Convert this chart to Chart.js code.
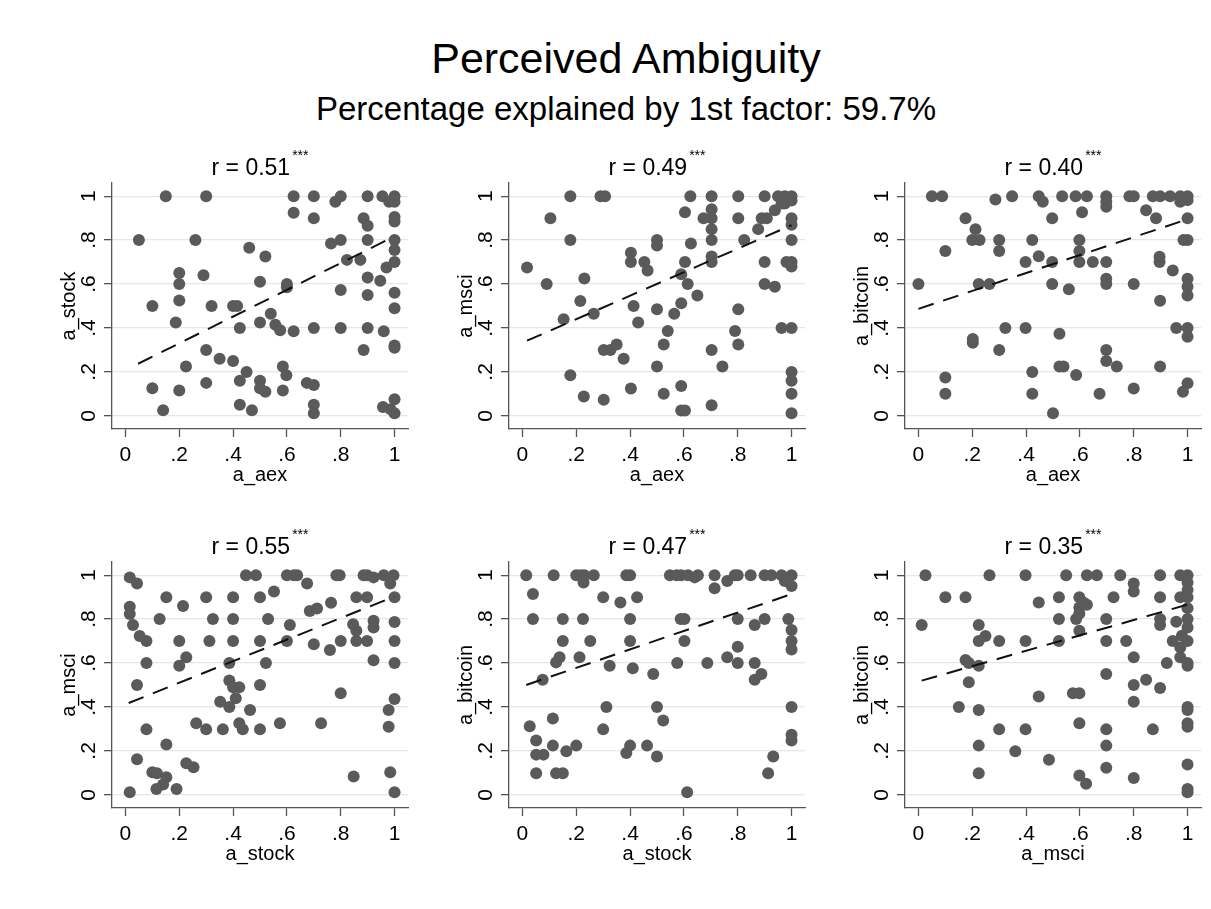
<!DOCTYPE html>
<html>
<head>
<meta charset="utf-8">
<title>Perceived Ambiguity</title>
<script src="https://cdn.jsdelivr.net/npm/chart.js@4.4.0/dist/chart.umd.min.js"></script>
<style>
    body {
        margin: 0;
        width: 1211px;
        height: 909px;
        background: #fff;
        overflow: hidden;
        position: relative;
        font-family: "Liberation Sans", Arial, sans-serif;
    }
    .title {
        position: absolute;
        left: 41px;
        width: 1170px;
        text-align: center;
        color: #000;
        white-space: nowrap;
    }
    canvas {
        position: absolute;
    }
</style>
</head>
<body>
<div class="title" style="top:37px;font-size:43px;line-height:43px">Perceived Ambiguity</div>
<div class="title" style="top:92px;font-size:33px;line-height:33px">Percentage explained by 1st factor: 59.7%</div>

<canvas id="c0" width="368" height="353" style="left:50px;top:138px"></canvas>
<canvas id="c1" width="368" height="353" style="left:447px;top:138px"></canvas>
<canvas id="c2" width="368" height="353" style="left:843px;top:138px"></canvas>
<canvas id="c3" width="368" height="353" style="left:50px;top:517px"></canvas>
<canvas id="c4" width="368" height="353" style="left:447px;top:517px"></canvas>
<canvas id="c5" width="368" height="353" style="left:843px;top:517px"></canvas>

<script>
const FONT = '"Liberation Sans", Arial, sans-serif';

const tickValues = [0, 0.2, 0.4, 0.6, 0.8, 1];
const tickLabels = ['0', '.2', '.4', '.6', '.8', '1'];

const rValues = ['0.51', '0.49', '0.40', '0.55', '0.47', '0.35'];
const xTitles = ['a_aex', 'a_aex', 'a_aex', 'a_stock', 'a_stock', 'a_msci'];
const yTitles = ['a_stock', 'a_msci', 'a_bitcoin', 'a_msci', 'a_bitcoin', 'a_bitcoin'];

// a_aex vs a_stock
const aexStockX = [0.05,0.15,0.30,0.10,0.10,0.14,0.20,0.20,0.20,0.187, 0.225,0.20,0.26,0.29,0.32,0.30,0.35,0.30,0.40,0.415,
    0.425,0.40,0.45,0.425,0.425,0.47,0.46,0.52,0.50,0.54, 0.50,0.557,0.575,0.50,0.50,0.52,0.585,0.585,0.598,0.60,
    0.60,0.625,0.625,0.625,0.70,0.70,0.70,0.674,0.70,0.70, 0.70,0.764,0.80,0.78,0.80,0.80,0.80,0.823,0.873,0.90,
    0.885,0.90,0.90,0.90,0.90,0.90,0.885,0.955,0.98,1, 1,1,1,1,1,1,0.97,0.947,1,1, 0.96,1,1,0.957,1,1,0.985];
const aexStockY = [0.80,1,1,0.50,0.125,0.025,0.65,0.60,0.525,0.425, 0.225,0.115,0.80,0.64,0.50,0.30,0.26,0.15,0.50,0.50,
    0.40,0.25,0.20,0.16,0.05,0.025,0.765,0.725,0.61,0.465, 0.425,0.415,0.39,0.16,0.125,0.11,0.115,0.225,0.185,0.60,
    0.585,0.385,1,0.925,1,0.90,0.40,0.15,0.14,0.05, 0.012,0.785,0.80,0.975,1,0.573,0.40,0.71,0.71,1,
    0.90,0.865,0.80,0.63,0.55,0.40,0.30,1,0.975,1, 0.975,0.905,0.885,0.80,0.755,0.70,0.675,0.615,0.56,0.49, 0.385,0.32,0.31,0.04,0.075,0.012,0.03];

// a_aex vs a_msci
const aexMsciX = [0.017,0.104,0.09,0.178,0.178,0.178,0.153,0.215,0.23,0.228, 0.265,0.29,0.307,0.302,0.327,0.35,0.376,0.302,0.403,0.403,
    0.453,0.465,0.413,0.43,0.403,0.5,0.5,0.5,0.5,0.525, 0.54,0.525,0.564,0.59,0.59,0.604,0.604,0.614,0.65,0.624,
    0.626,0.59,0.59,0.604,0.673,0.703,0.703,0.703,0.703,0.703, 0.703,0.703,0.703,0.703,0.743,0.802,0.802,0.824,0.876,0.802,
    0.79,0.802,0.9,0.889,0.908,0.938,0.9,0.9,0.938,0.95, 0.975,1,0.975,1,1,1,1,0.981,1,1, 0.963,1,1,1,1,1,0.963];
const aexMsciY = [0.675,0.9,0.6,1,0.8,0.185,0.44,0.523,0.625,0.088, 0.465,1,1,0.3,0.3,0.325,0.26,0.073,0.742,0.7,
    0.7,0.662,0.5,0.425,0.124,0.8,0.775,0.485,0.225,0.325, 0.386,0.1,0.465,0.512,0.645,0.7,0.927,0.6,0.548,1,
    0.785,0.136,0.024,0.024,0.9,1,0.94,0.9,0.85,0.8, 0.725,0.7,0.3,0.048,0.225,1,0.9,0.8,0.85,0.485,
    0.386,0.325,1,0.9,0.9,0.936,0.7,0.6,0.588,1, 1,1,0.967,0.98,0.9,0.87,0.8,0.7,0.7,0.68, 0.4,0.4,0.2,0.16,0.1,0.012,0.967];

// a_aex vs a_bitcoin
const aexBitcoinX = [0,0.05,0.088,0.1,0.1,0.1,0.175,0.212,0.2,0.227, 0.224,0.264,0.202,0.202,0.286,0.3,0.3,0.3,0.323,0.348,
    0.398,0.398,0.423,0.423,0.423,0.447,0.447,0.462,0.497,0.497, 0.497,0.5,0.534,0.524,0.524,0.539,0.559,0.584,0.626,0.608,
    0.598,0.598,0.598,0.648,0.586,0.673,0.698,0.698,0.698,0.698, 0.698,0.698,0.698,0.698,0.737,0.784,0.8,0.8,0.8,0.846,
    0.871,0.898,0.883,0.896,0.896,0.898,0.898,0.945,0.935,0.973, 1,0.973,1,1,0.985,1,1,1,1,0.958, 1,1,1,0.983];
const aexBitcoinY = [0.6,1,1,0.75,0.175,0.1,0.9,0.85,0.8,0.8, 0.6,0.6,0.35,0.333,0.985,0.8,0.75,0.3,0.4,1,
    0.7,0.4,0.8,0.2,0.1,0.727,1,0.975,0.9,0.7, 0.6,0.012,1,0.374,0.225,0.225,0.576,1,1,0.927,
    0.8,0.75,0.7,0.7,0.186,0.1,1,0.975,0.952,0.7, 0.624,0.6,0.3,0.25,0.225,1,1,0.6,0.124,0.936,
    1,1,0.9,0.724,0.7,0.524,0.225,0.662,1,1, 1,0.975,0.982,0.9,0.8,0.8,0.624,0.588,0.548,0.4, 0.4,0.36,0.148,0.11];

// a_stock vs a_msci
const stockMsciX = [0.016,0.016,0.016,0.043,0.028,0.053,0.078,0.078,0.043,0.078, 0.043,0.016,0.1,0.117,0.127,0.152,0.152,0.152,0.14,0.115,
    0.19,0.214,0.2,0.2,0.226,0.226,0.253,0.263,0.3,0.325, 0.312,0.3,0.362,0.352,0.4,0.4,0.4,0.386,0.386,0.4,
    0.386,0.41,0.423,0.423,0.436,0.463,0.448,0.485,0.5,0.5, 0.5,0.5,0.522,0.53,0.552,0.574,0.6,0.626,0.638,0.611,
    0.6,0.675,0.685,0.712,0.7,0.76,0.764,0.727,0.784,0.796, 0.8,0.8,0.846,0.858,0.858,0.858,0.848,0.885,0.898,0.922,
    0.898,0.898,0.922,0.922,0.922,0.96,0.996,0.984,1,1, 1,1,1,0.978,0.978,0.984,1];
const stockMsciY = [0.99,0.856,0.823,0.962,0.773,0.723,0.7,0.6,0.5,0.298, 0.162,0.012,0.103,0.098,0.8,0.9,0.229,0.08,0.047,0.027,
    0.027,0.86,0.7,0.588,0.626,0.144,0.126,0.326,0.9,0.8, 0.7,0.298,0.298,0.424,0.9,0.8,0.7,0.6,0.52,0.49,
    0.4,0.44,0.49,0.326,0.298,0.386,1,1,0.9,0.7, 0.5,0.298,0.6,0.8,0.926,0.326,1,1,1,0.773,
    0.7,0.962,0.837,0.848,0.686,0.659,0.875,0.326,1,1, 0.7,0.462,0.777,0.747,0.7,0.9,0.083,1,1,0.99,
    0.9,0.7,0.792,0.762,0.613,1,1,0.962,0.9,0.787, 0.7,0.6,0.436,0.386,0.31,0.103,0.012];

// a_stock vs a_bitcoin
const stockBitcoinX = [0.014,0.116,0.2,0.217,0.23,0.227,0.265,0.039,0.039,0.075, 0.027,0.051,0.051,0.078,0.051,0.113,0.113,0.125,0.15,0.163,
    0.2,0.125,0.138,0.15,0.15,0.225,0.212,0.252,0.3,0.324, 0.312,0.3,0.364,0.386,0.4,0.426,0.4,0.4,0.41,0.4,
    0.386,0.463,0.486,0.5,0.523,0.5,0.548,0.573,0.59,0.615, 0.64,0.652,0.588,0.602,0.602,0.575,0.612,0.687,0.714,0.714,
    0.761,0.789,0.8,0.848,0.761,0.8,0.8,0.8,0.863,0.863, 0.863,0.888,0.9,0.925,0.9,0.913,0.932,0.963,1,0.975,
    1,0.988,1,1,1,1,1,1];
const stockBitcoinY = [1,1,1,1,1,0.967,1,0.914,0.8,0.524, 0.312,0.247,0.183,0.183,0.098,0.348,0.224,0.098,0.098,0.198,
    0.224,0.603,0.626,0.7,0.8,0.8,0.626,0.7,0.9,0.588, 0.4,0.298,0.876,1,1,0.9,0.8,0.7,0.576,0.224,
    0.19,0.224,0.55,0.4,0.338,0.175,1,1,1,1, 0.99,1,0.8,0.8,0.7,0.6,0.012,0.6,1,0.94,
    0.974,1,1,1,0.626,0.8,0.674,0.6,0.773,0.6, 0.524,0.55,1,1,0.8,0.098,0.175,1,1,0.974,
    0.951,0.8,0.75,0.7,0.662,0.4,0.273,0.247];

// a_msci vs a_bitcoin
const msciBitcoinX = [0.026,0.012,0.1,0.175,0.175,0.187,0.187,0.15,0.224,0.224, 0.249,0.224,0.224,0.224,0.224,0.264,0.3,0.3,0.36,0.398,
    0.398,0.398,0.447,0.447,0.485,0.522,0.522,0.522,0.549,0.574, 0.598,0.598,0.598,0.586,0.598,0.613,0.626,0.598,0.598,0.598,
    0.623,0.626,0.663,0.698,0.698,0.698,0.698,0.698,0.698,0.725, 0.75,0.772,0.8,0.8,0.8,0.8,0.8,0.8,0.846,0.871,
    0.898,0.898,0.898,0.898,0.898,0.923,0.945,0.958,0.973,0.973, 0.973,0.973,1,1,1,1,1,1,1,1,
    1,1,1,1,1,1,1,1,1,0.979];
const msciBitcoinY = [1,0.773,0.9,0.9,0.614,0.6,0.512,0.4,0.773,0.7, 0.723,0.588,0.386,0.224,0.098,1,0.7,0.298,0.198,1,
    0.7,0.298,0.876,0.448,0.16,0.9,0.8,0.7,1,0.462, 0.462,0.9,0.853,0.8,0.826,0.876,0.865,0.747,0.326,0.088,
    0.05,1,1,0.8,0.7,0.55,0.298,0.224,0.123,0.9, 1,0.7,0.962,0.926,0.626,0.5,0.424,0.077,0.524,0.298,
    1,0.9,0.8,0.773,0.486,0.6,0.7,0.788,0.9,1, 0.671,0.626,1,0.967,0.932,0.9,0.85,0.8,0.762,0.7,
    0.588,0.6,0.4,0.386,0.326,0.31,0.138,0.027,0.012,0.724];

// fitted line end points per panel
const fitX = [[0.047, 1], [0.017, 1], [0, 1], [0.012, 1], [0.014, 1], [0.012, 1]];
const fitY = [[0.237, 0.817], [0.342, 0.868], [0.487, 0.895], [0.418, 0.903], [0.50, 0.914], [0.52, 0.866]];

const panelX = [aexStockX, aexMsciX, aexBitcoinX, stockMsciX, stockBitcoinX, msciBitcoinX];
const panelY = [aexStockY, aexMsciY, aexBitcoinY, stockMsciY, stockBitcoinY, msciBitcoinY];

// draws the rotated y tick labels and the "r = ..." title with stars
const panelDecor = {
    id: 'panelDecor',
    afterDraw(chart, args, opts) {
        const ctx = chart.ctx;
        const area = chart.chartArea;
        const ys = chart.scales.y;
        ctx.save();
        ctx.fillStyle = '#000';

        ctx.font = '21px ' + FONT;
        ctx.textAlign = 'center';
        ctx.textBaseline = 'middle';
        tickValues.forEach((v, k) => {
            ctx.save();
            ctx.translate(area.left - 22.5, ys.getPixelForValue(v));
            ctx.rotate(-Math.PI / 2);
            ctx.fillText(tickLabels[k], 0, 0);
            ctx.restore();
        });

        const main = 'r = ' + opts.r;
        ctx.font = '23px ' + FONT;
        const w1 = ctx.measureText(main).width;
        ctx.font = '14px ' + FONT;
        const w2 = ctx.measureText('***').width;
        const x0 = (area.left + area.right) / 2 - (w1 + w2 + 2) / 2;
        ctx.textAlign = 'left';
        ctx.textBaseline = 'alphabetic';
        ctx.font = '23px ' + FONT;
        ctx.fillText(main, x0, area.top - 8);
        ctx.font = '14px ' + FONT;
        ctx.fillText('***', x0 + w1 + 2, area.top - 23);
        ctx.restore();
    }
};

function makeChart(i) {
    const points = panelX[i].map((x, k) => ({ x: x, y: panelY[i][k] }));
    const fit = fitX[i].map((x, k) => ({ x: x, y: fitY[i][k] }));

    new Chart(document.getElementById('c' + i), {
        type: 'scatter',
        data: {
            datasets: [
                {
                    data: fit,
                    showLine: true,
                    borderColor: '#111',
                    borderWidth: 2,
                    borderDash: [16, 10],
                    pointRadius: 0
                },
                {
                    data: points,
                    pointRadius: 6,
                    backgroundColor: '#5a5a5a',
                    borderWidth: 0
                }
            ]
        },
        options: {
            responsive: false,
            animation: false,
            devicePixelRatio: 1,
            layout: { padding: { top: 45, right: 10, left: 0, bottom: 0 } },
            plugins: {
                legend: { display: false },
                tooltip: { enabled: false },
                panelDecor: { r: rValues[i] }
            },
            scales: {
                x: {
                    type: 'linear',
                    min: -0.05,
                    max: 1.05,
                    afterBuildTicks: s => { s.ticks = tickValues.map(v => ({ value: v })); },
                    afterFit: s => { s.height = 62; },
                    grid: { drawOnChartArea: false, tickLength: 8, tickColor: '#555', tickWidth: 1.3 },
                    border: { display: true, color: '#555', width: 1.3 },
                    ticks: {
                        padding: 6,
                        color: '#000',
                        maxRotation: 0,
                        font: { size: 21, family: FONT },
                        callback: (v, k) => tickLabels[k]
                    },
                    title: {
                        display: true,
                        text: xTitles[i],
                        color: '#000',
                        font: { size: 20, family: FONT },
                        padding: { top: 0, bottom: 4 }
                    }
                },
                y: {
                    type: 'linear',
                    min: -0.06,
                    max: 1.06,
                    afterBuildTicks: s => { s.ticks = tickValues.map(v => ({ value: v })); },
                    afterFit: s => { s.width = 62; },
                    grid: { color: '#e6e6e6', lineWidth: 1.3, tickLength: 8, tickColor: '#555', tickWidth: 1.3 },
                    border: { display: true, color: '#555', width: 1.3 },
                    ticks: { display: false },
                    title: {
                        display: true,
                        text: yTitles[i],
                        color: '#000',
                        font: { size: 20, family: FONT },
                        padding: { top: 7, bottom: 0 }
                    }
                }
            }
        },
        plugins: [panelDecor]
    });
}

for (let i = 0; i < 6; i++) {
    makeChart(i);
}
</script>
</body>
</html>
